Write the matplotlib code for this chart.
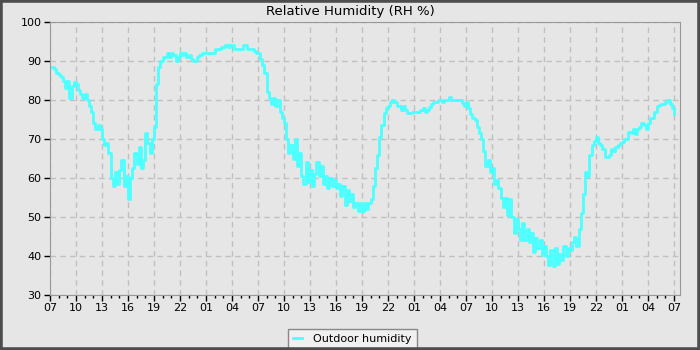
import numpy as np
import matplotlib
matplotlib.use("Agg")
from matplotlib import pyplot as plt
from matplotlib.patches import Rectangle

# hours since 07:00 on the first day, 15 minute samples
start_hour = 7
hours = np.arange(1, 289) * 0.25

# outdoor relative humidity (%), 4 samples per hour
humidity = [
    88.5, 88, 87, 86.5,   86, 85, 83, 85,   80.5, 83.5, 84.5, 84,   82.5, 81.5, 80.5, 81.5,
    80, 78.5, 77, 74,     72.5, 73.5, 72.5, 70,   68.5, 69, 66.5, 60,   58, 61.5, 58.5, 62,
    64.5, 58, 60.5, 54.5,   60, 62.5, 66.5, 63.5,   68, 62.5, 64.5, 71.5,   69, 66.5, 70, 73,
    84, 88.5, 90, 91,     91, 92, 91, 92,     91.5, 90, 91, 92,     91.5, 92, 91, 91.5,
    90.5, 90, 90, 91,     91.5, 92, 92, 92,   92, 92, 92, 93,       93, 93, 93.5, 93.5,
    94, 93.5, 94, 94,     93, 93, 93, 93,     94, 94, 93, 93,       93, 92.5, 92, 92,
    90.5, 89, 87, 82,     80.5, 79, 80.5, 78.5,   80, 77, 75.5, 74,   70, 66.5, 68.5, 65,
    70, 63, 66.5, 60.5,   58.5, 64, 59, 62,   58, 61, 64, 60.5,     63, 58.5, 60.5, 57.5,
    60, 58, 59.5, 57.5,   58.5, 55.5, 58, 53,   57, 54, 56, 52.5,   53.5, 51.5, 53.5, 51.5,
    53.5, 52, 53.5, 54.5,   58, 62.5, 66, 70.5,   73.5, 76.7, 78, 78.5,   79.5, 80, 79.5, 78.5,
    78.5, 77.5, 78.5, 77.5,   76.7, 76.7, 77, 77,   77, 77, 77.5, 78,   77, 77.5, 78.2, 79,
    79.5, 79.5, 80, 80,   79.5, 80, 80, 80.8,   80, 80, 80, 80,     80, 79.2, 78.5, 79.5,
    78, 76.5, 75.5, 75,   73, 71.5, 70, 67,   63, 64.5, 61.5, 62.5,   58.5, 59.5, 57.5, 55,
    52.5, 55, 50.5, 54.5,   50, 46, 49.5, 47,   44, 48.5, 44, 47,   43.5, 46, 41, 44.5,
    42, 44, 40.3, 42.5,   40, 37.8, 41.5, 37.5,   42, 38, 40.5, 39,   42.5, 40, 42, 41.5,
    43.5, 45, 42.5, 47,   51, 56, 61.5, 60.5,   66, 68.5, 69.5, 70.5,   69, 68.5, 67.5, 65.5,
    65.5, 66, 67.5, 67,   68, 68.5, 69, 69.2,   70, 70, 71.8, 71.5,   72.5, 71.2, 72.5, 73,
    74, 73.5, 72.5, 74,   75.5, 75.4, 77, 78.5,   78.7, 79, 79, 79.5,   80, 79, 78, 76.5,
]

bg = "#e6e6e6"
fig = plt.figure(figsize=(7, 3.5), dpi=100, facecolor=bg)
ax = fig.add_axes([50 / 700, 55 / 350, 630 / 700, 273 / 350], facecolor=bg)

line, = ax.plot(hours, humidity, color="#4dffff", lw=2, drawstyle="steps-post",
                label="Outdoor humidity")

ax.set_xlim(0, 72.7)
ax.set_ylim(30, 100)
ax.set_yticks(range(30, 101, 10))
ax.set_xticks(np.arange(0, 73, 3))
ax.set_xticks(np.arange(0, 73, 1), minor=True)
ax.set_xticklabels(["%02d" % ((start_hour + int(h)) % 24) for h in np.arange(0, 73, 3)])

ax.grid(True, color="#c0c0c0", linestyle=(0, (4, 3)), linewidth=1)
ax.set_axisbelow(True)
for s in ax.spines.values():
    s.set_color("#999999")
ax.tick_params(direction="out", length=4, width=1, colors="black", labelsize=8, pad=2)
ax.tick_params(which="minor", direction="out", length=2.5, width=1, colors="black")
ax.tick_params(axis="y", which="minor", left=False)

fig.text(0.5, 1 - 11 / 350, "Relative Humidity (RH %)", ha="center", va="center", fontsize=9.5)

leg = fig.legend(handles=[line], loc="lower left", bbox_to_anchor=(285 / 700, -2 / 350),
                 fontsize=8, fancybox=False, framealpha=1, handlelength=0.8,
                 borderpad=0.45, handletextpad=1.0, borderaxespad=0.3)
leg.get_frame().set_facecolor("#f0f0f0")
leg.get_frame().set_edgecolor("#888888")
leg.get_frame().set_linewidth(1)

fig.patches.append(Rectangle((0, 0), 1, 1, transform=fig.transFigure, fill=False,
                             edgecolor="#4d4d4d", linewidth=4, zorder=10))

fig.savefig("out.png", dpi=100, facecolor=bg)
